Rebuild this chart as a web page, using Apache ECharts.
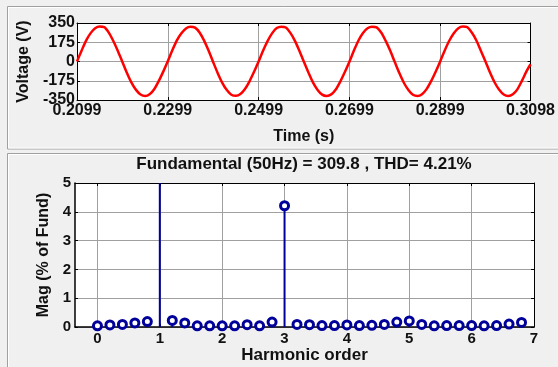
<!DOCTYPE html>
<html>
<head>
<meta charset="utf-8">
<script src="https://cdn.jsdelivr.net/npm/echarts@6/dist/echarts.min.js"></script>
<style>
  html, body { margin: 0; padding: 0; background: #f0f0f0; }
  #chart { width: 558px; height: 367px; }
</style>
</head>
<body>
<div id="chart"></div>
<script>
// --- top plot: voltage waveform, sampled every 1 ms from 0.2099 s
const timeStart = 0.2099;
const timeStep = 0.001;
const timeEnd = 0.3098;
const voltage = [
  0, 98, 190, 258, 303, 318, 312, 262, 186, 95, -4, -104, -192, -258, -300, -314, -298, -252, -178, -92,
  2, 102, 192, 256, 301, 316, 308, 264, 190, 98, -6, -106, -194, -260, -302, -312, -296, -250, -180, -94,
  0, 100, 188, 258, 304, 317, 309, 260, 188, 96, -4, -102, -192, -258, -301, -313, -299, -254, -182, -96,
  -2, 99, 191, 259, 302, 316, 310, 263, 187, 97, -5, -105, -193, -259, -303, -314, -297, -251, -179, -93,
  1, 101, 189, 257, 303, 318, 311, 261, 189, 94, -3, -103, -191, -257, -300, -313, -298, -253, -176, -90
];
const voltageAtEnd = -25;
const timeTicks = [0.2099, 0.2299, 0.2499, 0.2699, 0.2899, 0.3098];

// --- bottom plot: FFT spectrum
const harmonicOrder = [0, 0.2, 0.4, 0.6, 0.8, 1, 1.2, 1.4, 1.6, 1.8, 2, 2.2, 2.4, 2.6, 2.8, 3, 3.2, 3.4,
  3.6, 3.8, 4, 4.2, 4.4, 4.6, 4.8, 5, 5.2, 5.4, 5.6, 5.8, 6, 6.2, 6.4, 6.6, 6.8];
const magnitude = [0.04, 0.07, 0.09, 0.14, 0.19, 100, 0.23, 0.14, 0.04, 0.04, 0.04, 0.04, 0.08, 0.04, 0.17,
  4.21, 0.09, 0.08, 0.05, 0.05, 0.07, 0.05, 0.06, 0.09, 0.17, 0.21, 0.09, 0.04, 0.05, 0.05, 0.05, 0.04, 0.05, 0.1, 0.16];
const harmonicTicks = [0, 1, 2, 3, 4, 5, 6, 7];
const fundamental = 309.8;
const thd = 4.21;

const FONT = "'Liberation Sans', Arial, Helvetica, sans-serif";
const NAVY = "#00009a";
const GRIDLINE = {show: true, lineStyle: {color: "#a0a0a0", width: 1}};

const waveData = voltage.map((v, i) => [timeStart + i * timeStep, v]);
waveData.push([timeEnd, voltageAtEnd]);
const specData = harmonicOrder.map((h, i) => [h, magnitude[i]]);

// box edges (top / right) with inward ticks only
function frameAxis(extra) {
  return Object.assign({
    axisLine: {show: true, onZero: false, lineStyle: {color: "#000", width: 1}},
    axisTick: {show: true, inside: true, length: 3, lineStyle: {color: "#000"}},
    axisLabel: {show: false},
    splitLine: {show: false}
  }, extra);
}

const chart = echarts.init(document.getElementById("chart"));

const option = {
  backgroundColor: "#f0f0f0",
  animation: false,
  textStyle: {fontFamily: FONT},
  graphic: [
    // panel frames
    {type: "rect", shape: {x: 7.5, y: 6.5, width: 600, height: 142.5}, style: {fill: "none", stroke: "#a0a0a0", lineWidth: 1}},
    {type: "rect", shape: {x: 8.5, y: 7.5, width: 600, height: 140.5}, style: {fill: "none", stroke: "#ffffff", lineWidth: 1}},
    {type: "rect", shape: {x: 7.5, y: 153.5, width: 600, height: 300}, style: {fill: "none", stroke: "#a0a0a0", lineWidth: 1}},
    {type: "rect", shape: {x: 8.5, y: 154.5, width: 600, height: 300}, style: {fill: "none", stroke: "#ffffff", lineWidth: 1}}
  ],
  title: {
    text: "Fundamental (50Hz) = " + fundamental + " , THD= " + thd + "%",
    left: 304,
    top: 156,
    textAlign: "center",
    padding: 0,
    textStyle: {fontFamily: FONT, fontWeight: "bold", fontSize: 17, color: "#111"}
  },
  grid: [
    {left: 77, top: 23, width: 457, height: 77, show: true, backgroundColor: "#fff", borderWidth: 0},
    {left: 75, top: 183, width: 459, height: 144, show: true, backgroundColor: "#fff", borderWidth: 0}
  ],
  xAxis: [
    {
      gridIndex: 0, type: "value", min: timeStart, max: timeEnd, position: "bottom",
      axisLine: {onZero: false, lineStyle: {color: "#000"}},
      axisTick: {inside: true, length: 3, customValues: timeTicks, lineStyle: {color: "#000"}},
      axisLabel: {customValues: timeTicks, formatter: v => v.toFixed(4), color: "#111",
        fontFamily: FONT, fontWeight: "bold", fontSize: 16, margin: 3},
      splitLine: GRIDLINE,
      name: "Time (s)", nameLocation: "middle", nameGap: 29,
      nameTextStyle: {fontFamily: FONT, fontWeight: "bold", fontSize: 16, color: "#111"}
    },
    frameAxis({gridIndex: 0, type: "value", min: timeStart, max: timeEnd, position: "top",
      axisTick: {show: true, inside: true, length: 3, customValues: timeTicks, lineStyle: {color: "#000"}}}),
    {
      gridIndex: 1, type: "value", min: -0.36, max: 7, position: "bottom",
      axisLine: {onZero: false, lineStyle: {color: "#000", width: 1.5}},
      axisTick: {inside: true, length: 3, customValues: harmonicTicks, lineStyle: {color: "#000"}},
      axisLabel: {customValues: harmonicTicks, color: "#111",
        fontFamily: FONT, fontWeight: "bold", fontSize: 15, margin: 4},
      splitLine: GRIDLINE,
      name: "Harmonic order", nameLocation: "middle", nameGap: 12,
      nameTextStyle: {fontFamily: FONT, fontWeight: "bold", fontSize: 17, color: "#111"}
    },
    frameAxis({gridIndex: 1, type: "value", min: -0.36, max: 7, position: "top",
      axisTick: {show: true, inside: true, length: 3, customValues: harmonicTicks, lineStyle: {color: "#000"}}})
  ],
  yAxis: [
    {
      gridIndex: 0, type: "value", min: -350, max: 350, interval: 175, position: "left",
      axisLine: {show: true, onZero: false, lineStyle: {color: "#000"}},
      axisTick: {show: true, inside: true, length: 3, lineStyle: {color: "#000"}},
      axisLabel: {color: "#111", fontFamily: FONT, fontWeight: "bold", fontSize: 16, margin: 2},
      splitLine: GRIDLINE,
      name: "Voltage (V)", nameLocation: "middle", nameGap: 39,
      nameTextStyle: {fontFamily: FONT, fontWeight: "bold", fontSize: 16, color: "#111"}
    },
    frameAxis({gridIndex: 0, type: "value", min: -350, max: 350, interval: 175, position: "right"}),
    {
      gridIndex: 1, type: "value", min: 0, max: 5, interval: 1, position: "left",
      axisLine: {show: true, onZero: false, lineStyle: {color: "#000", width: 1.5}},
      axisTick: {show: true, inside: true, length: 3, lineStyle: {color: "#000"}},
      axisLabel: {color: "#111", fontFamily: FONT, fontWeight: "bold", fontSize: 15, margin: 4},
      splitLine: GRIDLINE,
      name: "Mag (% of Fund)", nameLocation: "middle", nameGap: 23,
      nameTextStyle: {fontFamily: FONT, fontWeight: "bold", fontSize: 16, color: "#111"}
    },
    frameAxis({gridIndex: 1, type: "value", min: 0, max: 5, interval: 1, position: "right"})
  ],
  series: [
    {
      type: "line", xAxisIndex: 0, yAxisIndex: 0, data: waveData,
      showSymbol: false, smooth: 0.3,
      lineStyle: {color: "#ff0000", width: 2.5}
    },
    {
      // stems
      type: "custom", xAxisIndex: 2, yAxisIndex: 2, data: specData, clip: true,
      renderItem: function (params, api) {
        const p0 = api.coord([api.value(0), 0]);
        const p1 = api.coord([api.value(0), api.value(1)]);
        return {
          type: "line",
          shape: {x1: p0[0], y1: p0[1], x2: p1[0], y2: p1[1]},
          style: {stroke: NAVY, lineWidth: 2}
        };
      }
    },
    {
      type: "scatter", xAxisIndex: 2, yAxisIndex: 2, data: specData, clip: true,
      symbol: "circle", symbolSize: 8,
      itemStyle: {color: "#fff", borderColor: NAVY, borderWidth: 3, opacity: 1}
    }
  ]
};

chart.setOption(option);
</script>
</body>
</html>
